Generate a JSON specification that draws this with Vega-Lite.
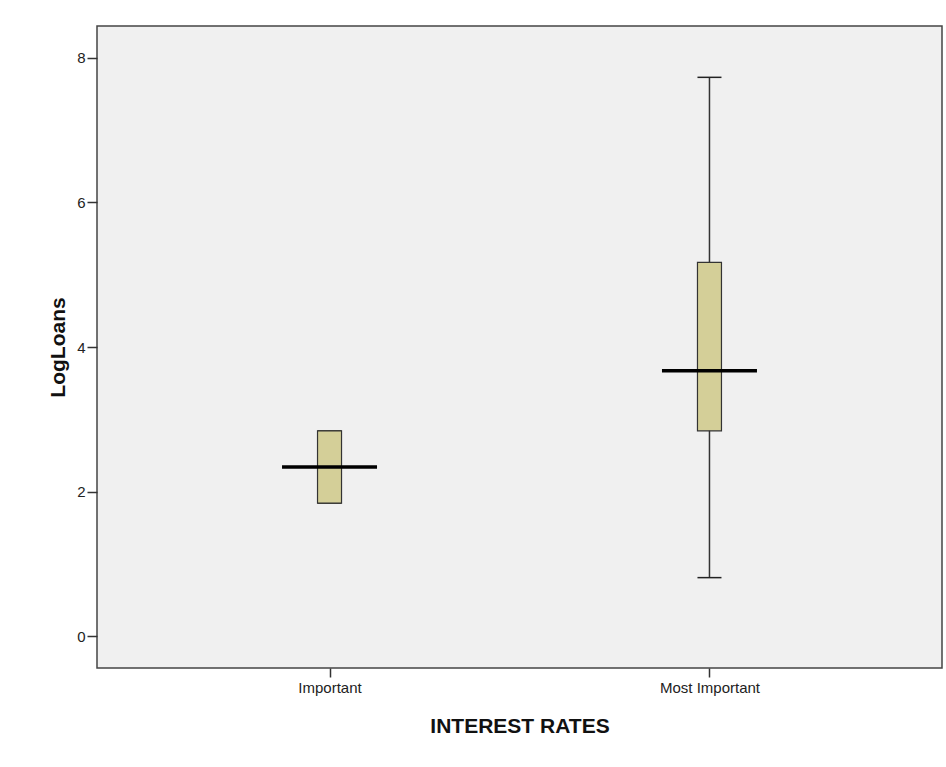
{
  "$schema": "https://vega.github.io/schema/vega-lite/v6.json",
  "autosize": "none",
  "width": 845,
  "height": 642,
  "padding": {"left": 97, "top": 26, "right": 4, "bottom": 99},
  "background": "white",
  "config": {
    "view": {"fill": "#F0F0F0", "stroke": "#444444", "strokeWidth": 1.5},
    "font": "Liberation Sans",
    "axis": {"grid": false, "domain": false, "tickColor": "#333333", "tickWidth": 1.5, "labelColor": "#222222", "titleColor": "#111111", "labelFont": "Liberation Sans", "titleFont": "Liberation Sans"}
  },
  "data": {
    "values": [
      {"category": "Important", "min": 1.84, "q1": 1.84, "median": 2.34, "q3": 2.84, "max": 2.84},
      {"category": "Most Important", "min": 0.81, "q1": 2.84, "median": 3.67, "q3": 5.17, "max": 7.73}
    ]
  },
  "encoding": {
    "x": {
      "field": "category",
      "type": "nominal",
      "scale": {"type": "point", "padding": 0.612},
      "axis": {"title": "INTEREST RATES", "labelAngle": 0, "labelFontSize": 15, "tickSize": 9, "labelPadding": 3, "titleFontSize": 21, "titleFontWeight": "bold", "titlePadding": 20}
    }
  },
  "layer": [
    {
      "mark": {"type": "rule", "color": "#333333", "strokeWidth": 1.5},
      "encoding": {
        "y": {"field": "min", "type": "quantitative", "scale": {"domain": [-0.44, 8.44], "nice": false, "zero": false}, "axis": {"title": "LogLoans", "values": [0, 2, 4, 6, 8], "format": "d", "labelFontSize": 15, "tickSize": 10, "labelPadding": 2, "titleFontSize": 21, "titleFontWeight": "bold", "titlePadding": 8}},
        "y2": {"field": "max"}
      }
    },
    {
      "mark": {"type": "tick", "color": "#222222", "size": 24, "thickness": 1.5, "opacity": 1},
      "encoding": {"y": {"field": "min", "type": "quantitative"}}
    },
    {
      "mark": {"type": "tick", "color": "#222222", "size": 24, "thickness": 1.5, "opacity": 1},
      "encoding": {"y": {"field": "max", "type": "quantitative"}}
    },
    {
      "mark": {"type": "bar", "size": 24, "fill": "#D4CF98", "stroke": "#333333", "strokeWidth": 1.2, "opacity": 1},
      "encoding": {
        "y": {"field": "q1", "type": "quantitative"},
        "y2": {"field": "q3"}
      }
    },
    {
      "mark": {"type": "tick", "color": "#000000", "size": 95, "thickness": 3.5, "opacity": 1},
      "encoding": {"y": {"field": "median", "type": "quantitative"}}
    }
  ]
}
